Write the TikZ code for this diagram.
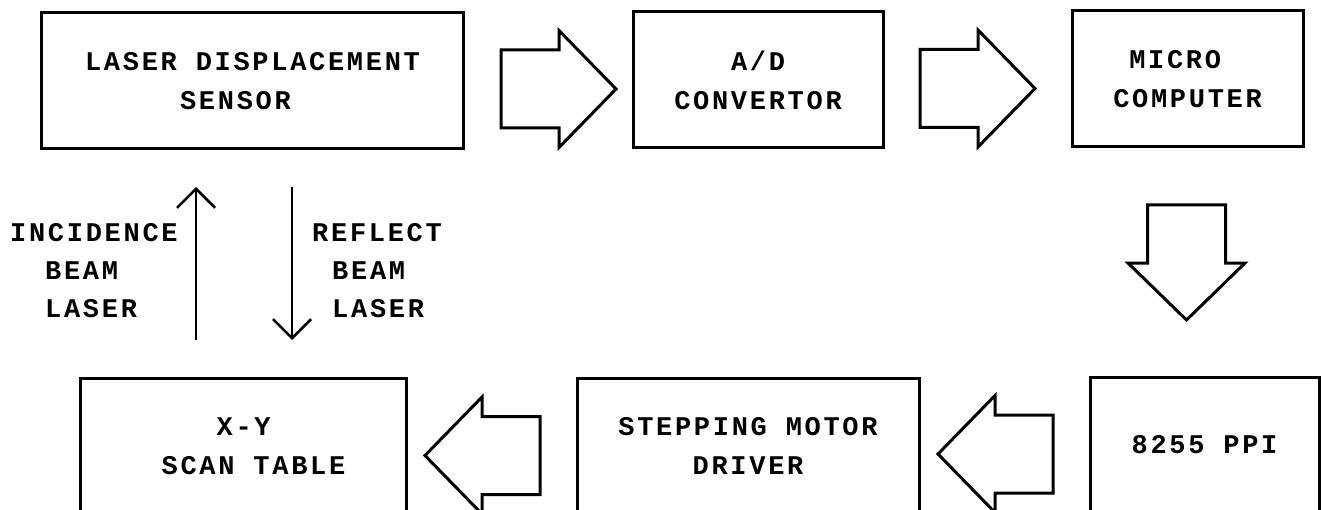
\documentclass[tikz,border=0pt]{standalone}
\usepackage{fontspec}
\newfontfamily\dotfont[LetterSpace=10]{Liberation Mono}
\usetikzlibrary{arrows.meta}
\tikzset{
  txt/.style={font=\dotfont\fontsize{27bp}{39bp}\selectfont\bfseries, inner sep=0pt},
  box/.style={txt, draw, line width=3bp, minimum height=136bp},
  barrow/.pic={\draw[line width=3bp, line join=miter]
     (0,39) -- (58,39) -- (58,58.5) -- (115,0) -- (58,-58.5) -- (58,-39) -- (0,-39) -- cycle;},
  beam/.style={line width=2.6bp, -{Straight Barb[length=19bp,width=38bp,line width=2.6bp]}}
}
\begin{document}
\begin{tikzpicture}[x=1bp,y=-1bp]
\useasboundingbox (0,0) rectangle (1321,510);
\clip (0,0) rectangle (1321,510);
\fill[white] (0,0) rectangle (1321,510);
% top row
\node[box, minimum width=421bp, align=left] (sensor) at (252.5,81)
  {LASER DISPLACEMENT\\\hspace*{95bp}SENSOR};
\node[box, minimum width=250bp, align=center] (ad) at (758,80)
  {A/D\\CONVERTOR};
\node[box, minimum width=231bp, align=left] (mc) at (1187.5,79)
  {\hspace*{16bp}MICRO\\COMPUTER};
% bottom row
\node[box, minimum width=325bp, align=left] (xy) at (243.5,446)
  {\hspace*{75bp}X-Y\\\hspace*{20bp}SCAN TABLE};
\node[box, minimum width=342bp, align=center] (smd) at (748,446)
  {STEPPING MOTOR\\DRIVER};
\node[box, minimum width=229bp, align=center] (ppi) at (1204.5,445)
  {8255 PPI};
% block arrows
\pic (a1) at (501,89) {barrow};
\pic (a2) at (920,88.5) {barrow};
\pic[rotate=-90] (a3) at (1186.5,205) {barrow};
\pic[rotate=180] (a4) at (1053,454) {barrow};
\pic[rotate=180] (a5) at (540,455.5) {barrow};
% beams
\coordinate (incA) at (196,340);
\coordinate (incB) at (196,187);
\coordinate (refA) at (292,187);
\coordinate (refB) at (292,340);
\draw[beam] (incA) -- (incB);
\draw[beam] (refA) -- (refB);
\node[txt, anchor=west, align=left, font=\dotfont\fontsize{27bp}{38bp}\selectfont\bfseries] (inclab) at (10,271)
  {INCIDENCE\\\hspace*{35bp}BEAM\\\hspace*{35bp}LASER};
\node[txt, anchor=west, align=left, font=\dotfont\fontsize{27bp}{38bp}\selectfont\bfseries] (reflab) at (312,271)
  {REFLECT\\\hspace*{20bp}BEAM\\\hspace*{20bp}LASER};
\end{tikzpicture}
\end{document}
